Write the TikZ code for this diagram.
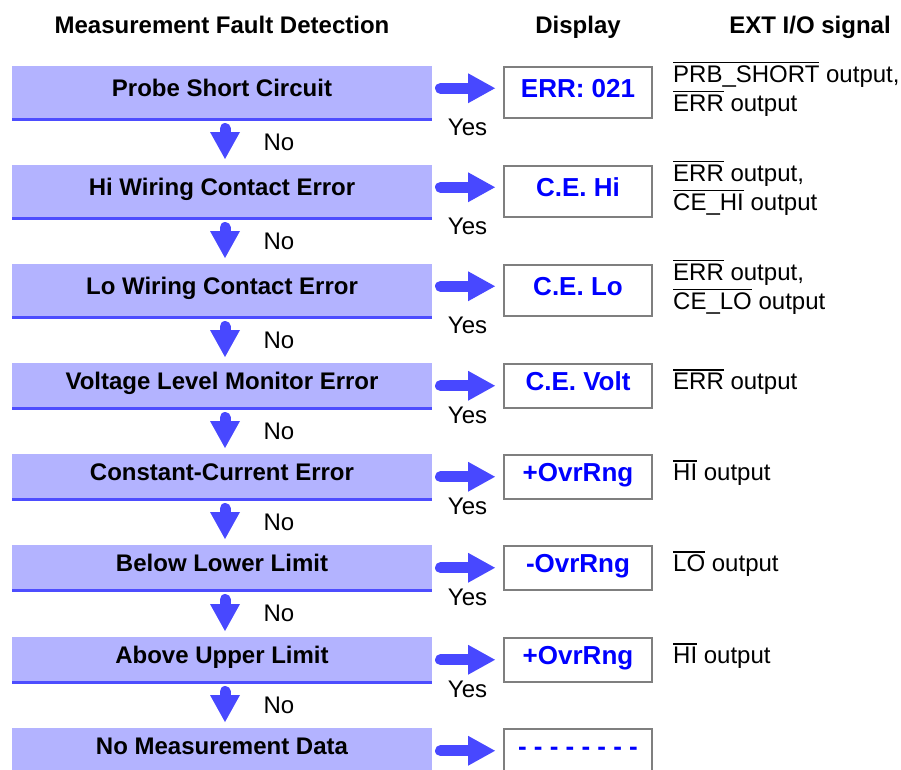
\documentclass[tikz,border=0pt]{standalone}
\usepackage{fontspec}
\setmainfont{Liberation Sans}
\usetikzlibrary{positioning, arrows.meta}

\definecolor{faultfill}{HTML}{B3B3FF}
\definecolor{faultedge}{HTML}{4D4DFF}
\definecolor{flowblue}{HTML}{4848FF}
\definecolor{dispblue}{HTML}{0000FF}
\definecolor{dispframe}{HTML}{7F7F7F}

\newcommand{\txtfont}{\fontsize{24}{29}\selectfont}
\newcommand{\dispfont}{\fontsize{26}{30}\selectfont\bfseries}
\newcommand{\negsig}[1]{\sbox0{#1}\rlap{\smash{\rule[19pt]{\wd0}{1.5pt}}}\usebox0}

\tikzset{
  fault/.style={fill=faultfill, minimum width=420pt, minimum height=#1, inner sep=0pt, outer sep=0pt,
    font=\txtfont\bfseries, text height=17.2pt, text depth=9pt},
  fault/.default=45.5pt,
  display/.style={draw=dispframe, line width=2pt, minimum width=148pt, minimum height=#1, inner sep=0pt,
    text=dispblue, font=\dispfont, text height=18.6pt, text depth=9pt},
  display/.default=44pt,
  edgeline/.style={draw=faultedge, line width=3pt},
  flow/.style={color=flowblue, line width=11pt, line cap=round,
    -{Triangle[length=27pt, width=30pt, line width=0pt]}},
  yesflow/.style={flow, shorten <=8.5pt, shorten >=8pt},
  noflow/.style={flow, shorten <=9pt, shorten >=6pt},
  yeslabel/.style={inner sep=0pt, font=\txtfont, text=black, yshift=#1},
  yeslabel/.default=-30pt,
  nolabel/.style={inner sep=0pt, font=\txtfont, text=black, anchor=west, xshift=33pt},
  header/.style={font=\txtfont\bfseries, inner sep=0pt, text height=17.2pt, text depth=9pt},
  signal/.style={font=\txtfont, align=left, inner sep=0pt, anchor=west}
}

\begin{document}
\begin{tikzpicture}[x=1pt, y=-1pt, on grid]
    \useasboundingbox (0,0) rectangle (901,769);
    \clip (0,0) rectangle (901,769);

    % fault checks, top to bottom
    \node[fault=53.5pt] (b1) at (222,92.75) {Probe Short Circuit};
    \node[fault=53.5pt] (b2) [below=99pt of b1] {Hi Wiring Contact Error};
    \node[fault=53.5pt] (b3) [below=99pt of b2] {Lo Wiring Contact Error};
    \node[fault] (b4) [below=95pt of b3] {Voltage Level Monitor Error};
    \node[fault] (b5) [below=91pt of b4] {Constant-Current Error};
    \node[fault] (b6) [below=91pt of b5] {Below Lower Limit};
    \node[fault] (b7) [below=92pt of b6] {Above Upper Limit};
    \node[fault] (b8) [below=91pt of b7] {No Measurement Data};

    \draw[edgeline]
        (b1.south west) -- (b1.south east)
        (b2.south west) -- (b2.south east)
        (b3.south west) -- (b3.south east)
        (b4.south west) -- (b4.south east)
        (b5.south west) -- (b5.south east)
        (b6.south west) -- (b6.south east)
        (b7.south west) -- (b7.south east)
        (b8.south west) -- (b8.south east);

    % display
    \node[display=51pt] (d1) [right=356pt of b1] {ERR: 021};
    \node[display=51pt] (d2) [right=356pt of b2] {C.E. Hi};
    \node[display=51pt] (d3) [right=356pt of b3] {C.E. Lo};
    \node[display] (d4) [right=356pt of b4] {C.E. Volt};
    \node[display] (d5) [right=356pt of b5] {+OvrRng};
    \node[display] (d6) [right=356pt of b6] {-OvrRng};
    \node[display] (d7) [right=356pt of b7] {+OvrRng};
    \node[display] (d8) [right=356pt of b8] {- - - - - - - -};

    % EXT I/O
    \node[signal, on grid=false, right=20pt of d1, yshift=2pt] (s1)
        {\negsig{PRB\_SHORT} output,\\\negsig{ERR} output};
    \node[signal, on grid=false, right=20pt of d2, yshift=2pt] (s2)
        {\negsig{ERR} output,\\\negsig{CE\_HI} output};
    \node[signal, on grid=false, right=20pt of d3, yshift=2pt] (s3)
        {\negsig{ERR} output,\\\negsig{CE\_LO} output};
    \node[signal, on grid=false, right=20pt of d4, yshift=2pt] (s4) {\negsig{ERR} output};
    \node[signal, on grid=false, right=20pt of d5, yshift=2pt] (s5) {\negsig{HI} output};
    \node[signal, on grid=false, right=20pt of d6, yshift=2pt] (s6) {\negsig{LO} output};
    \node[signal, on grid=false, right=20pt of d7, yshift=2pt] (s7) {\negsig{HI} output};

    % column heads
    \node[header] (hfault) [above=63.25pt of b1] {Measurement Fault Detection};
    \node[header] (hdisp) [above=63.25pt of d1] {Display};
    \node[header] (hsig) [right=232pt of hdisp] {EXT I/O signal};

    \path[yesflow]
        ([yshift=4.5pt]b1.east) edge node[yeslabel=-39pt] {Yes} ([yshift=4.5pt]d1.west)
        ([yshift=4.5pt]b2.east) edge node[yeslabel=-39pt] {Yes} ([yshift=4.5pt]d2.west)
        ([yshift=4.5pt]b3.east) edge node[yeslabel=-39pt] {Yes} ([yshift=4.5pt]d3.west)
        (b4.east) edge node[yeslabel] {Yes} (d4.west)
        (b5.east) edge node[yeslabel] {Yes} (d5.west)
        (b6.east) edge node[yeslabel] {Yes} (d6.west)
        (b7.east) edge node[yeslabel] {Yes} (d7.west)
        (b8.east) edge (d8.west);

    \path[noflow]
        ([xshift=3pt]b1.south) edge node[nolabel] {No} ([xshift=3pt]b2.north)
        ([xshift=3pt]b2.south) edge node[nolabel] {No} ([xshift=3pt]b3.north)
        ([xshift=3pt]b3.south) edge node[nolabel] {No} ([xshift=3pt]b4.north)
        ([xshift=3pt]b4.south) edge node[nolabel] {No} ([xshift=3pt]b5.north)
        ([xshift=3pt]b5.south) edge node[nolabel] {No} ([xshift=3pt]b6.north)
        ([xshift=3pt]b6.south) edge node[nolabel] {No} ([xshift=3pt]b7.north)
        ([xshift=3pt]b7.south) edge node[nolabel] {No} ([xshift=3pt]b8.north);
\end{tikzpicture}
\end{document}
